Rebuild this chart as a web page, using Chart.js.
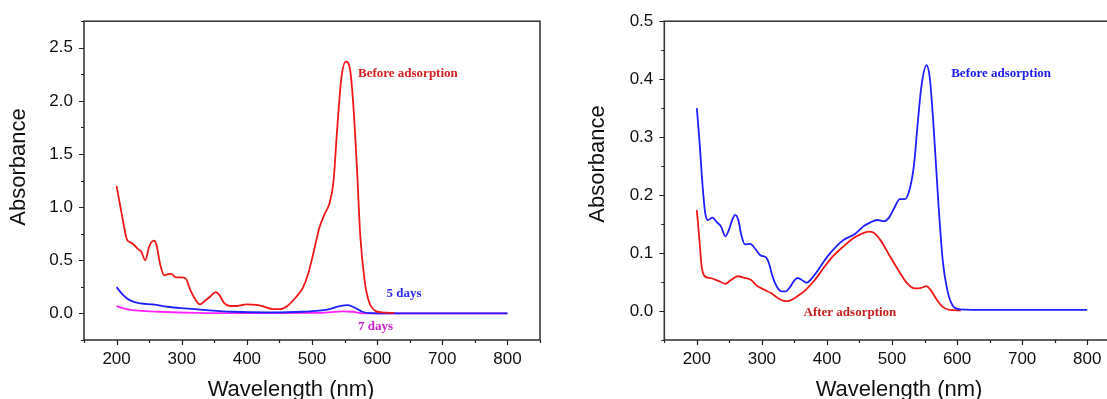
<!DOCTYPE html>
<html>
<head>
<meta charset="utf-8">
<script src="https://cdn.jsdelivr.net/npm/chart.js@4.4.1/dist/chart.umd.min.js"></script>
<style>
  html, body { margin: 0; padding: 0; background: #fff; overflow: hidden; width: 1107px; height: 399px; }
  #leftWrap { position: absolute; left: 0; top: 0; width: 560px; height: 399px; }
  #rightWrap { position: absolute; left: 560px; top: 0; width: 580px; height: 399px; }
</style>
</head>
<body>
<div id="leftWrap"><canvas id="leftChart" width="560" height="399"></canvas></div>
<div id="rightWrap"><canvas id="rightChart" width="580" height="399"></canvas></div>
<script>
// -- Left panel: dye solution spectra over time ------------------------
const leftBeforeNm = [200, 209, 216, 223, 234, 238, 244, 250, 257, 261, 267, 273, 279, 284, 291, 300, 306, 313, 321, 328, 335, 344, 352, 357, 365, 374, 385, 399, 415, 426, 440, 451, 462, 475, 486, 494, 503, 511, 519, 527, 533, 538, 545, 552, 558, 563, 569, 574, 581, 588, 596, 607, 626];
const leftBeforeAbs = [1.2, 0.9, 0.695, 0.664, 0.6, 0.58, 0.5, 0.63, 0.686, 0.65, 0.46, 0.36, 0.37, 0.373, 0.34, 0.34, 0.33, 0.225, 0.13, 0.085, 0.115, 0.16, 0.2, 0.18, 0.1, 0.07, 0.07, 0.085, 0.08, 0.065, 0.04, 0.04, 0.07, 0.15, 0.24, 0.37, 0.59, 0.8, 0.93, 1.04, 1.24, 1.68, 2.21, 2.37, 2.31, 2.0, 1.37, 0.74, 0.3, 0.1, 0.03, 0.01, 0.005];

const left5dNm = [200, 209, 220, 237, 256, 278, 305, 338, 377, 431, 486, 525, 541, 555, 566, 577, 590, 620, 700, 800];
const left5dAbs = [0.247, 0.18, 0.125, 0.094, 0.085, 0.063, 0.047, 0.031, 0.016, 0.009, 0.016, 0.038, 0.066, 0.078, 0.053, 0.016, 0.003, 0.001, 0.0, 0.0];

const left7dNm = [200, 217, 239, 267, 322, 404, 514, 547, 563, 574, 600, 700, 800];
const left7dAbs = [0.069, 0.038, 0.025, 0.016, 0.006, 0.003, 0.006, 0.019, 0.016, 0.003, 0.0, 0.0, 0.0];

// -- Right panel: before / after adsorption ----------------------------
const rightBeforeNm = [200, 204, 209, 213, 217, 224, 231, 237, 244, 249, 255, 259, 264, 268, 274, 282, 290, 298, 306, 311, 316, 322, 330, 337, 343, 350, 355, 362, 369, 375, 386, 400, 413, 426, 443, 456, 467, 477, 488, 496, 504, 512, 520, 528, 534, 539, 545, 553, 558, 564, 571, 578, 585, 593, 604, 650, 800];
const rightBeforeAbs = [0.35, 0.294, 0.214, 0.168, 0.157, 0.161, 0.153, 0.146, 0.129, 0.139, 0.159, 0.166, 0.156, 0.133, 0.115, 0.116, 0.107, 0.096, 0.093, 0.082, 0.061, 0.044, 0.034, 0.034, 0.041, 0.053, 0.057, 0.053, 0.049, 0.054, 0.07, 0.093, 0.11, 0.123, 0.133, 0.146, 0.153, 0.157, 0.155, 0.162, 0.179, 0.193, 0.193, 0.214, 0.254, 0.317, 0.386, 0.424, 0.403, 0.317, 0.191, 0.087, 0.036, 0.01, 0.003, 0.002, 0.002];

const rightAfterNm = [200, 204, 207.5, 212, 220, 231, 244, 252, 263, 274, 283, 292, 303, 314, 325, 336, 343, 354, 367, 381, 394, 408, 424, 440, 453, 464, 472, 483, 496, 510, 523, 535, 545, 553, 559, 568, 577, 588, 606];
const rightAfterAbs = [0.174, 0.122, 0.076, 0.06, 0.057, 0.053, 0.047, 0.053, 0.06, 0.057, 0.054, 0.044, 0.037, 0.031, 0.022, 0.017, 0.018, 0.025, 0.036, 0.053, 0.073, 0.093, 0.11, 0.125, 0.133, 0.137, 0.135, 0.121, 0.096, 0.07, 0.048, 0.039, 0.04, 0.043, 0.037, 0.021, 0.008, 0.002, 0.001];

// -- Axis ticks --------------------------------------------------------
const xMajor = [200, 300, 400, 500, 600, 700, 800];
const xMinor = [150, 250, 350, 450, 550, 650, 750, 850];
const leftYMajor = [0, 0.5, 1.0, 1.5, 2.0, 2.5];
const leftYMinor = [-0.25, 0.25, 0.75, 1.25, 1.75, 2.25, 2.75];
const rightYMajor = [0, 0.1, 0.2, 0.3, 0.4, 0.5];
const rightYMinor = [-0.05, 0.05, 0.15, 0.25, 0.35, 0.45];

const pairs = (xs, ys) => xs.map((x, i) => ({ x, y: ys[i] }));

const SANS = '"Liberation Sans", Arial, sans-serif';
const SERIF = '"Liberation Serif", "Times New Roman", serif';

/** Frame, inward-free outward ticks, axis titles and in-plot labels. */
const decorations = {
  id: "decorations",
  afterDraw(chart, args, opts) {
    const { ctx, chartArea: a } = chart;
    const xs = chart.scales.x;
    const ys = chart.scales.y;
    ctx.save();
    ctx.strokeStyle = "#3a3a3a";
    ctx.lineWidth = 1.6;
    ctx.strokeRect(a.left, a.top, a.right - a.left, a.bottom - a.top);

    ctx.lineWidth = 1.2;
    ctx.strokeStyle = "#222";
    ctx.beginPath();
    const tick = (vals, len, isX) => {
      vals.forEach((v) => {
        if (isX) {
          const px = Math.round(xs.getPixelForValue(v)) + 0.5;
          ctx.moveTo(px, a.bottom);
          ctx.lineTo(px, a.bottom + len);
        } else {
          const py = Math.round(ys.getPixelForValue(v)) + 0.5;
          ctx.moveTo(a.left, py);
          ctx.lineTo(a.left - len, py);
        }
      });
    };
    tick(xMajor, 5, true);
    tick(xMinor, 3, true);
    tick(opts.yMajor, 5, false);
    tick(opts.yMinor, 3, false);
    ctx.stroke();

    // axis titles
    ctx.fillStyle = "#111";
    ctx.font = "22px " + SANS;
    ctx.textAlign = "center";
    ctx.textBaseline = "alphabetic";
    ctx.fillText("Wavelength (nm)", opts.xTitle[0], opts.xTitle[1]);
    ctx.save();
    ctx.translate(opts.yTitle[0], opts.yTitle[1]);
    ctx.rotate(-Math.PI / 2);
    ctx.textBaseline = "middle";
    ctx.fillText("Absorbance", 0, 0);
    ctx.restore();

    // in-plot labels, anchored in data coordinates
    ctx.font = "bold 13px " + SERIF;
    ctx.textAlign = "left";
    ctx.textBaseline = "middle";
    opts.labels.forEach((l) => {
      ctx.fillStyle = l.color;
      ctx.fillText(l.text, xs.getPixelForValue(l.x), ys.getPixelForValue(l.y));
    });
    ctx.restore();
  },
};

function spectrumChart(canvasId, datasets, cfg) {
  return new Chart(document.getElementById(canvasId), {
    type: "line",
    data: { datasets },
    options: {
      responsive: false,
      animation: false,
      devicePixelRatio: 1,
      layout: { padding: cfg.padding },
      elements: { point: { radius: 0 }, line: { borderWidth: 1.8, cubicInterpolationMode: "monotone" } },
      scales: {
        x: {
          type: "linear",
          min: 150,
          max: 850,
          grid: { display: false, drawTicks: false },
          border: { display: false },
          afterBuildTicks: (s) => { s.ticks = xMajor.map((v) => ({ value: v })); },
          afterFit: (s) => { s.height = cfg.xHeight; },
          ticks: { padding: 9, color: "#111", font: { family: SANS, size: 17 }, maxRotation: 0, callback: (v) => String(v) },
        },
        y: {
          type: "linear",
          min: cfg.yMin,
          max: cfg.yMax,
          grid: { display: false, drawTicks: false },
          border: { display: false },
          afterBuildTicks: (s) => { s.ticks = cfg.yMajor.map((v) => ({ value: v })); },
          afterFit: (s) => { s.width = cfg.yWidth; },
          ticks: { padding: 11, color: "#111", font: { family: SANS, size: 17 }, callback: (v) => Number(v).toFixed(1) },
        },
      },
      plugins: {
        legend: { display: false },
        tooltip: { enabled: false },
        decorations: cfg.deco,
      },
    },
    plugins: [decorations],
  });
}

spectrumChart(
  "leftChart",
  [
    { data: pairs(leftBeforeNm, leftBeforeAbs), borderColor: "#f01818" },
    { data: pairs(left5dNm, left5dAbs), borderColor: "#1f1fff" },
    { data: pairs(left7dNm, left7dAbs), borderColor: "#ff22ff" },
  ],
  {
    padding: { left: 0, top: 20, right: 20, bottom: 0 },
    xHeight: 59,
    yWidth: 84,
    yMin: -0.25,
    yMax: 2.75,
    yMajor: leftYMajor,
    deco: {
      yMajor: leftYMajor,
      yMinor: leftYMinor,
      xTitle: [291, 396],
      yTitle: [19, 167],
      labels: [
        { text: "Before adsorption", x: 570.6, y: 2.26, color: "#d42020" },
        { text: "5 days", x: 614.5, y: 0.19, color: "#2a2aee" },
        { text: "7 days", x: 570.6, y: -0.128, color: "#cc22cc" },
      ],
    },
  }
);

spectrumChart(
  "rightChart",
  [
    { data: pairs(rightBeforeNm, rightBeforeAbs), borderColor: "#1f1fff" },
    { data: pairs(rightAfterNm, rightAfterAbs), borderColor: "#f01818" },
  ],
  {
    padding: { left: 0, top: 21, right: 20.3, bottom: 0 },
    xHeight: 59,
    yWidth: 104.3,
    yMin: -0.05,
    yMax: 0.5,
    yMajor: rightYMajor,
    deco: {
      yMajor: rightYMajor,
      yMinor: rightYMinor,
      xTitle: [339, 396],
      yTitle: [38.4, 164],
      labels: [
        { text: "Before adsorption", x: 591, y: 0.41, color: "#2020ee" },
        { text: "After adsorption", x: 364, y: -0.0034, color: "#cc2020" },
      ],
    },
  }
);
</script>
</body>
</html>
